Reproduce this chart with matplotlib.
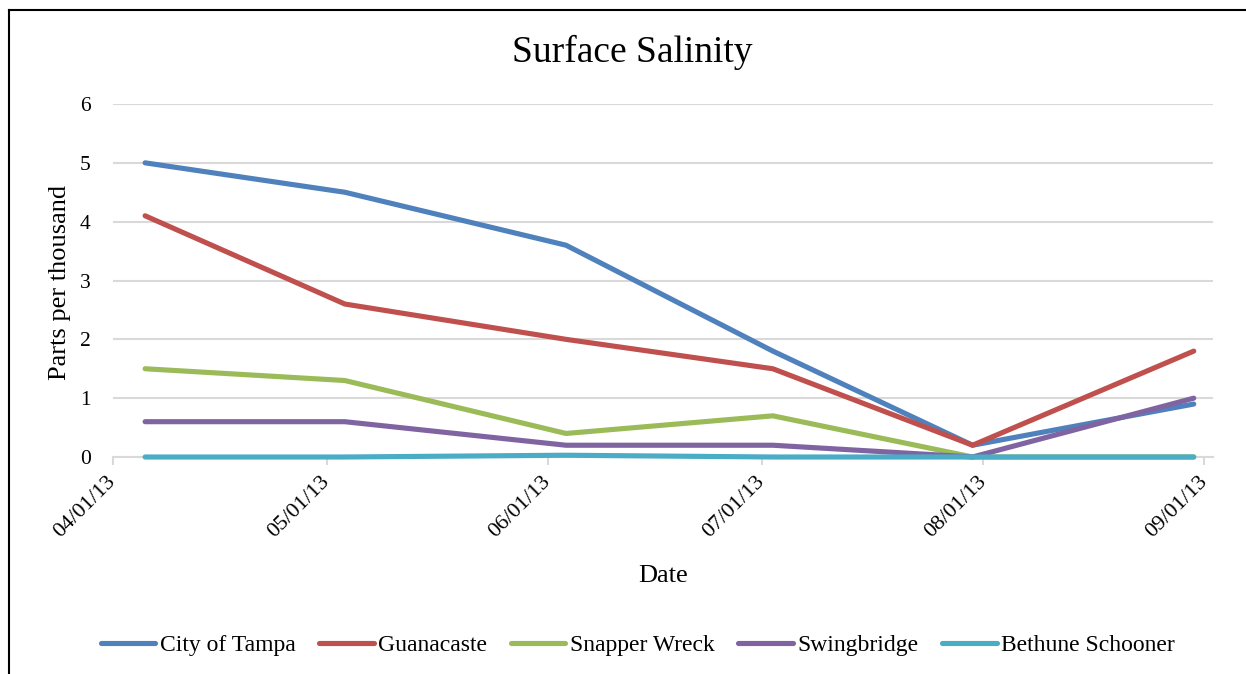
import matplotlib
matplotlib.use("Agg")
import matplotlib.pyplot as plt
import matplotlib.dates as mdates
import pandas as pd
from matplotlib.lines import Line2D

# ---- data ----
dates = ["2013-04-05", "2013-05-03", "2013-06-03", "2013-07-02", "2013-07-30", "2013-08-30"]
city_of_tampa = [5.0, 4.5, 3.6, 1.8, 0.2, 0.9]
guanacaste = [4.1, 2.6, 2.0, 1.5, 0.2, 1.8]
snapper_wreck = [1.5, 1.3, 0.4, 0.7, 0.0, 0.0]
swingbridge = [0.6, 0.6, 0.2, 0.2, 0.0, 1.0]
bethune_schooner = [0.0, 0.0, 0.03, 0.0, 0.0, 0.0]
series_names = ["City of Tampa", "Guanacaste", "Snapper Wreck", "Swingbridge", "Bethune Schooner"]
tick_dates = ["2013-04-01", "2013-05-01", "2013-06-01", "2013-07-01", "2013-08-01", "2013-09-01"]
y_ticks = [0, 1, 2, 3, 4, 5, 6]

colors = ["#4F81BD", "#C0504D", "#9BBB59", "#8064A2", "#4BACC6"]

plt.rcParams['font.family'] = ['Liberation Serif', 'DejaVu Serif']

fig = plt.figure(figsize=(12.46, 6.74), dpi=100)
W, H = 1246, 674
ax = fig.add_axes([113 / W, 1 - 457 / H, (1213 - 113) / W, (457 - 104) / H])

# Excel "between tick marks" on a day-based date axis -> points at mid-day
x = pd.to_datetime(dates) + pd.Timedelta(hours=12)
all_series = [city_of_tampa, guanacaste, snapper_wreck, swingbridge, bethune_schooner]
for vals, c, name in zip(all_series, colors, series_names):
    ax.plot(x, vals, color=c, lw=3.7, solid_capstyle='round', solid_joinstyle='round',
            label=name, zorder=3, clip_on=False)

ax.set_ylim(0, 6)
ax.set_yticks(y_ticks)
td = pd.to_datetime(tick_dates)
ax.set_xlim(td[0], td[-1] + pd.Timedelta(days=1.2))
ax.set_xticks(td)
ax.xaxis.set_major_formatter(mdates.DateFormatter("%m/%d/%y"))

ax.grid(axis='y', color='#D9D9D9', lw=1.5, zorder=0)
for s in ['top', 'right', 'left']:
    ax.spines[s].set_visible(False)
ax.spines['bottom'].set_color('#D9D9D9')
ax.spines['bottom'].set_linewidth(1.5)
ax.spines['bottom'].set_zorder(1)
ax.tick_params(axis='y', length=0, pad=16, labelsize=15.5)
ax.tick_params(axis='x', length=6, width=1.5, color='#D9D9D9', direction='out',
               labelsize=16, pad=10)
for lbl in ax.get_xticklabels():
    lbl.set_rotation(45)
    lbl.set_ha('right')
    lbl.set_va('center')
    lbl.set_rotation_mode('anchor')

fig.text(632 / W, 1 - 52 / H, "Surface Salinity", ha='center', va='center', fontsize=27)
fig.text(60 / W, 1 - 282 / H, "Parts per thousand", ha='center', va='center',
         rotation=90, fontsize=19)
fig.text(663 / W, 1 - 576 / H, "Date", ha='center', va='center', fontsize=19)

handles = [Line2D([], [], color=c, lw=3.7, solid_capstyle='round') for c in colors]
fig.legend(handles, series_names, loc='center', bbox_to_anchor=(638 / W, 1 - 645 / H),
           ncol=5, frameon=False, fontsize=17, handlelength=2.3, handletextpad=0.2,
           columnspacing=1.0)

# outer chart border (top and left edges visible)
fig.add_artist(Line2D([8.5 / W, 8.5 / W], [0, 1 - 9.5 / H], transform=fig.transFigure,
                      color='black', lw=1.5))
fig.add_artist(Line2D([8.5 / W, 1], [1 - 9.5 / H, 1 - 9.5 / H], transform=fig.transFigure,
                      color='black', lw=1.5))

fig.savefig("out.png", dpi=100)
